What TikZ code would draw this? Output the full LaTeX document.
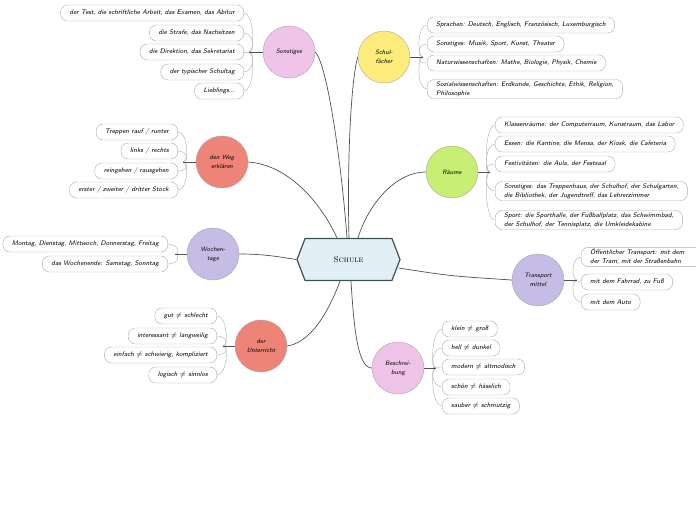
\documentclass[tikz,border=0pt]{standalone}
\usepackage{xcolor}
\usepackage{amsmath,amssymb}
\usepackage{tikz}
\usetikzlibrary{shapes.symbols,positioning}

\definecolor{pinkc}{HTML}{F0C3E9}
\definecolor{yellowc}{HTML}{FBEC7B}
\definecolor{greenc}{HTML}{C8EF74}
\definecolor{redc}{HTML}{EE8478}
\definecolor{lilac}{HTML}{C6BDE6}
\definecolor{hubfill}{HTML}{E2EFF5}
\definecolor{hubline}{HTML}{3F4F55}
\definecolor{linkc}{HTML}{505050}

\begin{document}
\begin{tikzpicture}[
  x=1pt, y=-1pt,
  topic/.style={circle, draw=gray!70, minimum size=52pt, inner sep=0pt,
                align=center, font=\fontsize{6.3}{9}\sffamily\itshape},
  leaf/.style={rectangle, draw=gray!65, fill=white, rounded corners=7pt,
               minimum height=16pt, inner xsep=9pt, inner ysep=2pt,
               align=left, font=\fontsize{6.6}{9}\sffamily\itshape},
  hub/.style={shape=signal, signal to=west and east, signal pointer angle=138,
              draw=hubline, line width=1.2pt, fill=hubfill,
              minimum width=103pt, minimum height=42pt, inner sep=0pt},
  link/.style={draw=linkc, line width=0.7pt},
  stem/.style={draw=linkc, line width=1pt},
  branch/.style={draw=gray!55, line width=0.5pt},
]
  \useasboundingbox (0,0) rectangle (696,520);

  \node[hub] (schule) at (348.5,259.5) {\fontsize{8.5}{10}\selectfont\textsc{Schule}};

  % Sonstiges
  \node[topic, fill=pinkc] (sonst) at (289,52) {Sonstiges};
  \coordinate (jS) at (249,52);
  \node[leaf, anchor=east] (s1) at (244,13) {der Test, die schriftliche Arbeit, das Examen, das Abitur};
  \node[leaf, anchor=east] (s2) at (244,33) {die Strafe, das Nachsitzen};
  \node[leaf, anchor=east] (s3) at (244,52) {die Direktion, das Sekretariat};
  \node[leaf, anchor=east] (s4) at (244,72) {der typischer Schultag};
  \node[leaf, anchor=east] (s5) at (244,91) {Lieblings...};
  \foreach \b in {s1,s2,s3,s4,s5}
    \draw[branch] (jS) .. controls +(6,0) and +(10,0) .. (\b.east);
  \draw[stem] (sonst) -- (jS);

  % Schulfaecher
  \node[topic, fill=yellowc] (fach) at (384,57) {Schul-\\fächer};
  \coordinate (jF) at (423,57);
  \node[leaf, anchor=west] (f1) at (427,25) {Sprachen: Deutsch, Englisch, Französisch, Luxemburgisch};
  \node[leaf, anchor=west] (f2) at (427,44) {Sonstiges: Musik, Sport, Kunst, Theater};
  \node[leaf, anchor=west] (f3) at (427,63) {Naturwissenschaften: Mathe, Biologie, Physik, Chemie};
  \node[leaf, anchor=west] (f4) at (427,89) {Sozialwissenschaften: Erdkunde, Geschichte, Ethik, Religion,\\Philosophie};
  \foreach \b in {f1,f2,f3,f4}
    \draw[branch] (jF) .. controls +(-6,0) and +(-10,0) .. (\b.west);
  \draw[stem] (fach) -- (jF);

  % Raeume
  \node[topic, fill=greenc] (raum) at (452,172) {Räume};
  \coordinate (jR) at (490,172);
  \node[leaf, anchor=west] (r1) at (495,125) {Klassenräume: der Computerraum, Kunstraum, das Labor};
  \node[leaf, anchor=west] (r2) at (495,144) {Essen: die Kantine, die Mensa, der Kiosk, die Cafeteria};
  \node[leaf, anchor=west] (r3) at (495,164) {Festivitäten: die Aula, der Festsaal};
  \node[leaf, anchor=west] (r4) at (495,191) {Sonstiges: das Treppenhaus, der Schulhof, der Schulgarten,\\die Bibliothek, der Jugendtreff, das Lehrerzimmer};
  \node[leaf, anchor=west] (r5) at (495,220) {Sport: die Sporthalle, der Fußballplatz, das Schwimmbad,\\der Schulhof, der Tennisplatz, die Umkleidekabine};
  \foreach \b in {r1,r2,r3,r4,r5}
    \draw[branch] (jR) .. controls +(-6,0) and +(-10,0) .. (\b.west);
  \draw[stem] (raum) -- (jR);

  % den Weg erklaeren
  \node[topic, fill=redc] (weg) at (222,162) {den Weg\\erklären};
  \coordinate (jW) at (183,162);
  \node[leaf, anchor=east] (w1) at (178,132) {Treppen rauf / runter};
  \node[leaf, anchor=east] (w2) at (178,151) {links / rechts};
  \node[leaf, anchor=east] (w3) at (178,171) {reingehen / rausgehen};
  \node[leaf, anchor=east] (w4) at (178,190) {erster / zweiter / dritter Stock};
  \foreach \b in {w1,w2,w3,w4}
    \draw[branch] (jW) .. controls +(6,0) and +(10,0) .. (\b.east);
  \draw[stem] (weg) -- (jW);

  % Wochentage
  \node[topic, fill=lilac] (woche) at (213,254) {Wochen-\\tage};
  \coordinate (jT) at (175,254);
  \node[leaf, anchor=east] (t1) at (168,244) {Montag, Dienstag, Mittwoch, Donnerstag, Freitag};
  \node[leaf, anchor=east] (t2) at (168,264) {das Wochenende: Samstag, Sonntag};
  \foreach \b in {t1,t2}
    \draw[branch] (jT) .. controls +(6,0) and +(10,0) .. (\b.east);
  \draw[stem] (woche) -- (jT);

  % Transportmittel
  \node[topic, fill=lilac] (trans) at (538,280) {Transport\\mittel};
  \coordinate (jM) at (577,280);
  \node[leaf, anchor=west, text width=140pt] (m1) at (581,257) {Öffentlicher Transport: mit dem\\der Tram, mit der Straßenbahn};
  \node[leaf, anchor=west] (m2) at (581,282) {mit dem Fahrrad, zu Fuß};
  \node[leaf, anchor=west] (m3) at (581,302) {mit dem Auto};
  \foreach \b in {m1,m2,m3}
    \draw[branch] (jM) .. controls +(-6,0) and +(-10,0) .. (\b.west);
  \draw[stem] (trans) -- (jM);

  % der Unterricht
  \node[topic, fill=redc] (unter) at (261,346) {der\\Unterricht};
  \coordinate (jU) at (223,346);
  \node[leaf, anchor=east] (u1) at (217,316) {gut $\neq$ schlecht};
  \node[leaf, anchor=east] (u2) at (217,336) {interessant $\neq$ langweilig};
  \node[leaf, anchor=east] (u3) at (217,355) {einfach $\neq$ schwierig, kompliziert};
  \node[leaf, anchor=east] (u4) at (217,375) {logisch $\neq$ sinnlos};
  \foreach \b in {u1,u2,u3,u4}
    \draw[branch] (jU) .. controls +(6,0) and +(10,0) .. (\b.east);
  \draw[stem] (unter) -- (jU);

  % Beschreibung
  \node[topic, fill=pinkc] (besch) at (398,368) {Beschrei-\\bung};
  \coordinate (jB) at (436,368);
  \node[leaf, anchor=west] (b1) at (442,329) {klein $\neq$ groß};
  \node[leaf, anchor=west] (b2) at (442,348) {hell $\neq$ dunkel};
  \node[leaf, anchor=west] (b3) at (442,367) {modern $\neq$ altmodisch};
  \node[leaf, anchor=west] (b4) at (442,387) {schön $\neq$ hässlich};
  \node[leaf, anchor=west] (b5) at (442,406) {sauber $\neq$ schmutzig};
  \foreach \b in {b1,b2,b3,b4,b5}
    \draw[branch] (jB) .. controls +(-6,0) and +(-10,0) .. (\b.west);
  \draw[stem] (besch) -- (jB);

  % links to the hub
  \draw[link] (sonst.east) .. controls (328,65) and (342,170) .. ([xshift=-1.5pt]schule.north);
  \draw[link] (fach.west) .. controls (351,80) and (347,160) .. ([xshift=0.5pt]schule.north);
  \draw[link] (weg.east) .. controls (290,165) and (322,205) .. ([xshift=-11.5pt]schule.north);
  \draw[link] (raum.west) .. controls (395,172) and (368,205) .. ([xshift=9.5pt]schule.north);
  \draw[link] (woche.east) .. controls (265,254) and (280,257) .. (schule.west);
  \draw[link] ([xshift=-2pt,yshift=-8.5pt]schule.east) .. controls (450,276) .. (trans.west);
  \draw[link] (unter.east) .. controls (315,342) and (333,300) .. ([xshift=-8.5pt]schule.south);
  \draw[link] ([xshift=2.5pt]schule.south) .. controls (354,330) and (358,368) .. (besch.west);
\end{tikzpicture}
\end{document}
